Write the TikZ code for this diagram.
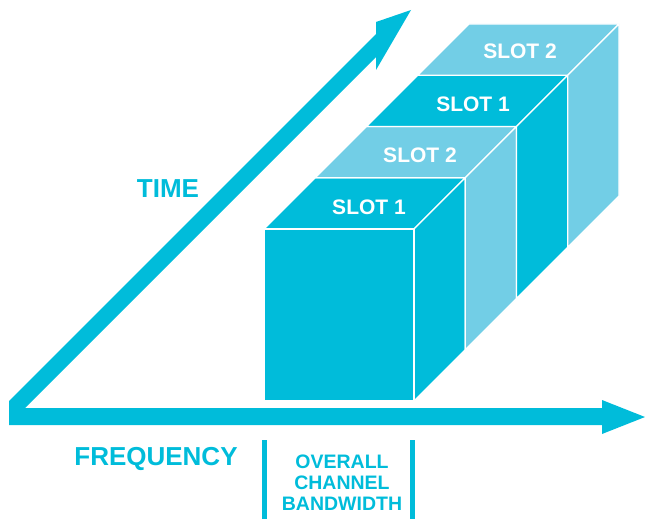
\documentclass[tikz,border=0pt]{standalone}
\usepackage{fontspec}
\setmainfont{Liberation Sans}
\definecolor{cyandark}{RGB}{0,188,218}
\definecolor{cyanlight}{RGB}{114,206,230}
\begin{document}
\begin{tikzpicture}[x=1pt,y=-1pt,
  cubeface/.style={draw=white, line width=1.3pt, line join=miter},
  darkface/.style={cubeface, fill=cyandark},
  lightface/.style={cubeface, fill=cyanlight},
  slotlabel/.style={text=white, font=\bfseries\fontsize{21}{21}\selectfont, inner sep=0pt},
  axislabel/.style={text=cyandark, font=\bfseries\fontsize{26}{26}\selectfont, inner sep=0pt},
  bwlabel/.style={text=cyandark, font=\bfseries\fontsize{19.5}{21}\selectfont, align=center, inner sep=0pt},
  bwbar/.style={fill=cyandark}]
\useasboundingbox (0,0) rectangle (645,519);
% axes (L-shaped double arrow)
\fill[cyandark] (9,425) -- (602,425) -- (602,434) -- (645,417) -- (602,400) -- (602,408)
  -- (25,408) -- (376,57) -- (376,70) -- (411,10) -- (376,22) -- (376,34) -- (9,401) -- cycle;
% cube
\foreach \k/\sty in {0/darkface,1/lightface,2/darkface,3/lightface}{
  \begin{scope}[shift={({51.25*\k},{-51.25*\k})}]
    \path[\sty] (264,229) -- (414,229) -- (465.25,177.75) -- (315.25,177.75) -- cycle;
    \path[\sty] (414,229) -- (465.25,177.75) -- (465.25,349.75) -- (414,401) -- cycle;
  \end{scope}
}
\path[darkface] (264,229) rectangle (414,401);
% slot labels
\node[slotlabel] (s1a) at (369,207) {SLOT 1};
\node[slotlabel] (s2a) at (420,155) {SLOT 2};
\node[slotlabel] (s1b) at (473,104) {SLOT 1};
\node[slotlabel] (s2b) at (520,51) {SLOT 2};
% axis labels
\node[axislabel, anchor=base] (time) at (168,197) {TIME};
\node[axislabel, anchor=base] (freq) at (156,465) {FREQUENCY};
% bandwidth
\fill[bwbar] (262,440) rectangle (267,519);
\fill[bwbar] (410,440) rectangle (415,519);
\node[bwlabel] (bw) at (342,482.5) {OVERALL\\CHANNEL\\BANDWIDTH};
\end{tikzpicture}
\end{document}
